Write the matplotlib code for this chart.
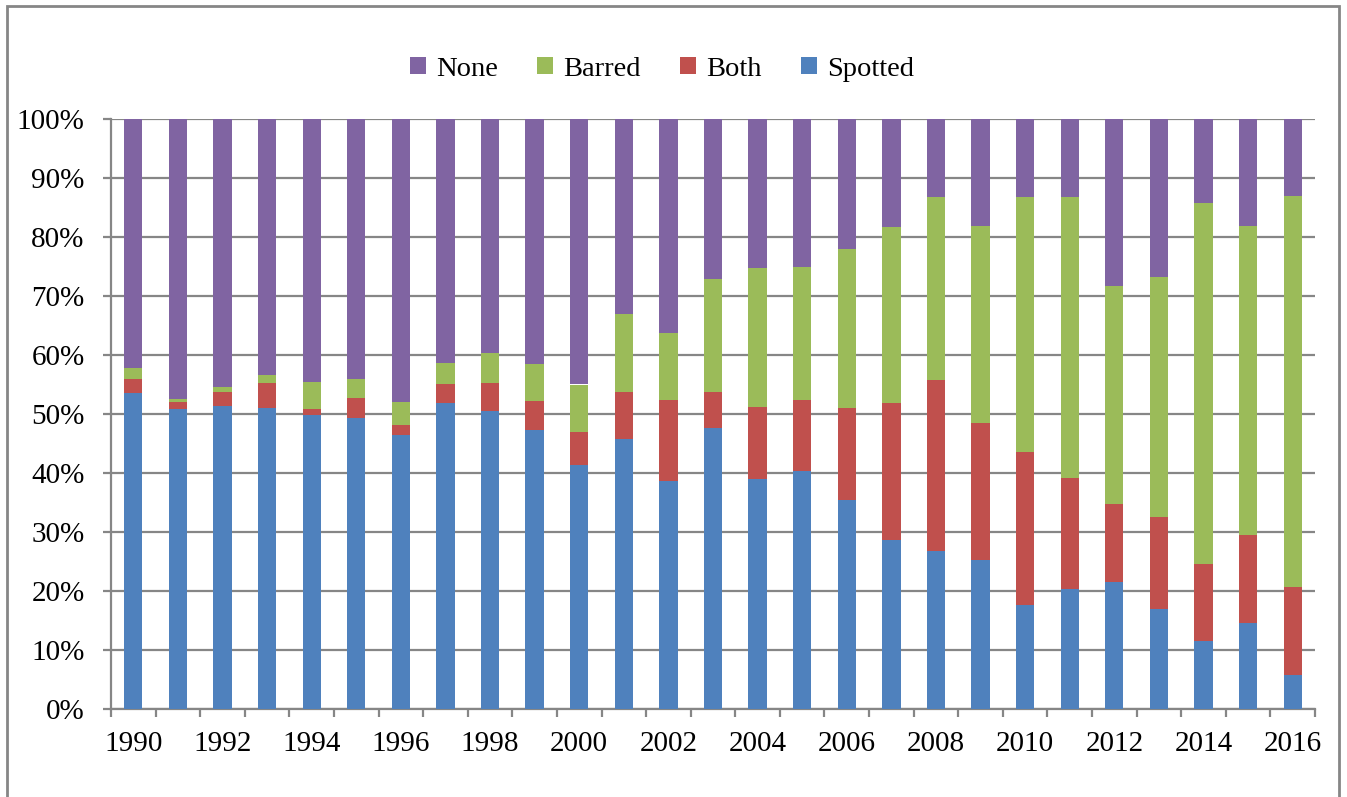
import matplotlib.pyplot as plt
from matplotlib.patches import Rectangle
from matplotlib.ticker import FuncFormatter, FixedLocator

years = list(range(1990, 2017))
spotted = [53.5, 50.8, 51.3, 51.0, 49.8, 49.4, 46.4, 51.9, 50.5, 47.3, 41.3, 45.7, 38.6, 47.6,
           39.0, 40.3, 35.4, 28.6, 26.7, 25.3, 17.7, 20.3, 21.5, 16.9, 11.5, 14.5, 5.8]
both = [2.4, 1.2, 2.5, 4.3, 1.1, 3.3, 1.8, 3.1, 4.8, 4.9, 5.7, 8.1, 13.7, 6.2,
        12.2, 12.0, 15.6, 23.3, 29.1, 23.2, 25.8, 18.8, 13.2, 15.7, 13.0, 15.0, 14.9]
barred = [1.9, 0.5, 0.7, 1.3, 4.5, 3.3, 3.8, 3.7, 5.0, 6.3, 8.0, 13.1, 11.5, 19.1,
          23.5, 22.6, 27.0, 29.8, 31.0, 33.3, 43.3, 47.7, 37.0, 40.6, 61.2, 52.4, 66.2]
none = [42.2, 47.5, 45.5, 43.4, 44.6, 44.0, 48.0, 41.3, 39.7, 41.5, 45.0, 33.1, 36.2, 27.1,
        25.3, 25.1, 22.0, 18.3, 13.2, 18.2, 13.2, 13.2, 28.3, 26.8, 14.3, 18.1, 13.1]

plt.rcParams['font.family'] = ['Liberation Serif', 'DejaVu Serif']

fig = plt.figure(figsize=(13.47, 7.97), dpi=100)
ax = fig.add_axes([111/1347, 1-709/797, 1204/1347, 590/797])

x = list(range(len(years)))
w = 0.41
b1 = spotted
b2 = [a + b for a, b in zip(b1, both)]
b3 = [a + b for a, b in zip(b2, barred)]
# totals, so each bar reaches 100%
tot = [a + b for a, b in zip(b3, none)]

def pct(vals):
    return [v / t * 100 for v, t in zip(vals, tot)]

h_s = ax.bar(x, pct(spotted), w, color='#4F81BD', zorder=3)
h_b = ax.bar(x, pct(both), w, bottom=pct(b1), color='#C0504D', zorder=3)
h_ba = ax.bar(x, pct(barred), w, bottom=pct(b2), color='#9BBB59', zorder=3)
h_n = ax.bar(x, pct(none), w, bottom=pct(b3), color='#8064A2', zorder=3)

ax.set_xlim(-0.5, len(years) - 0.5)
ax.set_ylim(0, 100)
ax.set_yticks(range(0, 101, 10))
ax.yaxis.set_major_formatter(FuncFormatter(lambda v, p: '%d%%' % v))
ax.grid(axis='y', color='#868686', linewidth=1.6, zorder=0)

ax.xaxis.set_major_locator(FixedLocator([i - 0.5 for i in range(len(years) + 1)]))
ax.xaxis.set_minor_locator(FixedLocator(x[::2]))
ax.set_xticklabels([], minor=False)
ax.set_xticklabels([str(y) for y in years[::2]], minor=True)
ax.tick_params(axis='x', which='major', length=6, width=1.6, color='#868686', direction='out')
ax.tick_params(axis='x', which='minor', length=0, pad=16, labelsize=21)
ax.tick_params(axis='y', length=6, width=1.6, color='#868686', pad=13, labelsize=21)

for s in ['top', 'right']:
    ax.spines[s].set_visible(False)
for s in ['left', 'bottom']:
    ax.spines[s].set_color('#868686')
    ax.spines[s].set_linewidth(1.6)

ax.legend([h_n, h_ba, h_b, h_s], ['None', 'Barred', 'Both', 'Spotted'],
          loc='center', bbox_to_anchor=(662/1347, 1 - 69/797), bbox_transform=fig.transFigure,
          ncol=4, frameon=False, fontsize=20.5, handlelength=0.55, handleheight=0.55,
          handletextpad=0.35, columnspacing=1.4)

fig.patches.append(Rectangle((7/1347, -0.05), 1332/1347, 1.05 - 6/797, transform=fig.transFigure,
                             fill=False, edgecolor='#868686', linewidth=2))

fig.savefig('out.png', dpi=100)
